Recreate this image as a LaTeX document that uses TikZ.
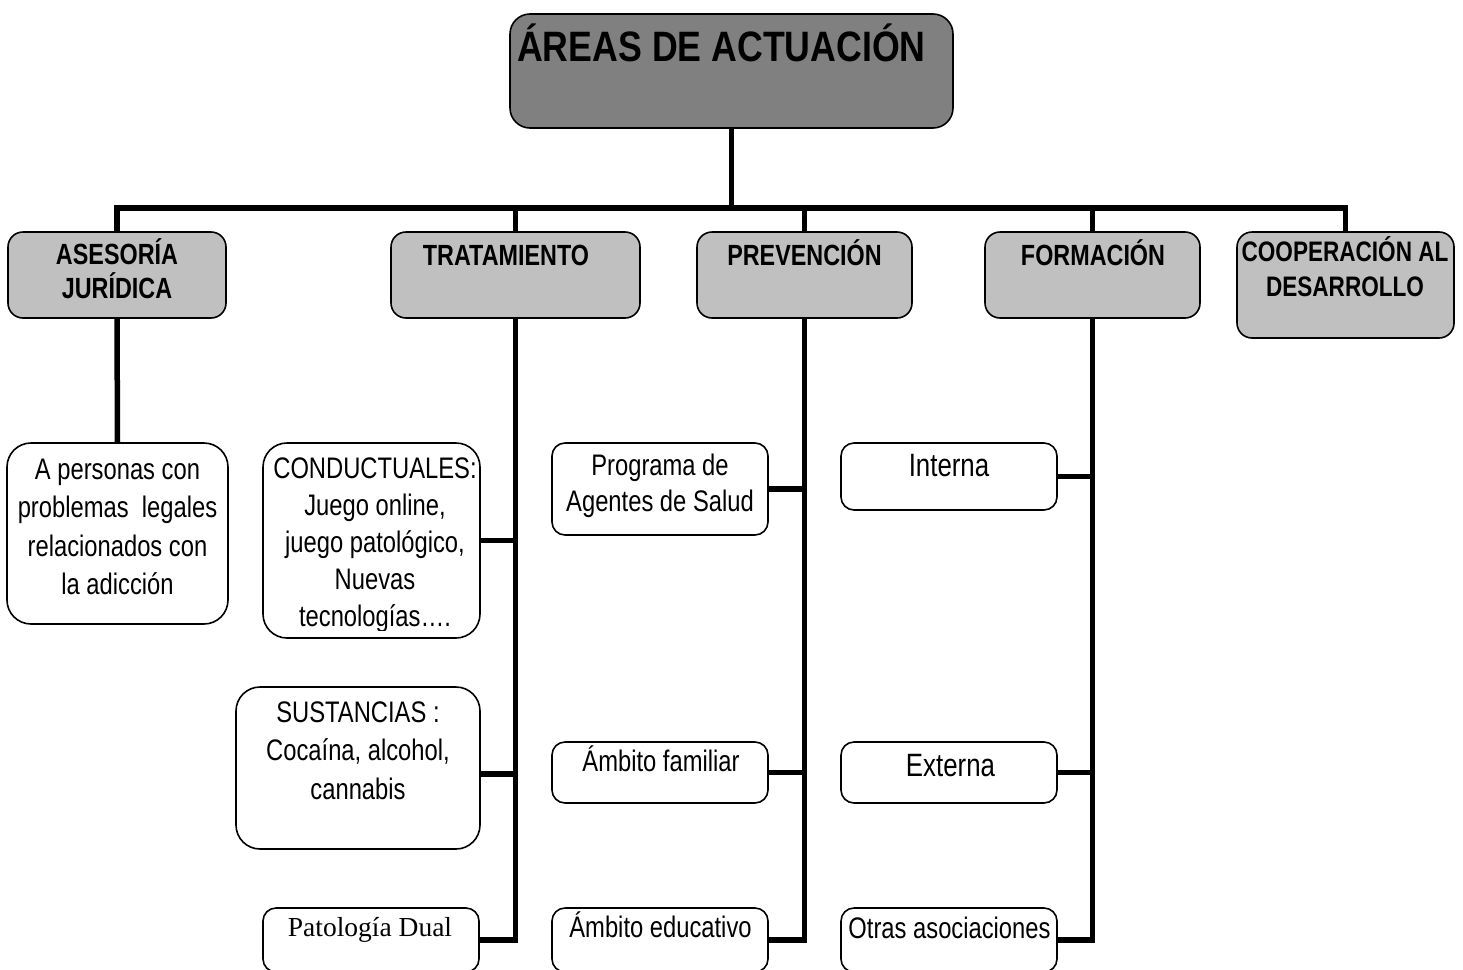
\documentclass[tikz,border=0pt]{standalone}
\usepackage{fontspec}
\setmainfont{Liberation Sans}[FakeStretch=0.8]
\newfontfamily\titlefont{Liberation Sans}[FakeStretch=0.84]
\newfontfamily\dualfont{Liberation Serif}
\definecolor{titlegray}{HTML}{808080}
\definecolor{boxgray}{HTML}{C0C0C0}
\newcommand{\tstrut}{\rule{0pt}{32pt}}
\begin{document}
\begin{tikzpicture}[x=1pt,y=-1pt,
  conn/.style={line width=5.5pt, line join=miter},
  bx/.style={draw, line width=1.6pt, inner sep=0pt},
  titlebox/.style={bx, fill=titlegray, rounded corners=20pt},
  catbox/.style={bx, fill=boxgray, rounded corners=15pt},
  leafbox/.style={bx, fill=white, rounded corners=24pt},
  smallbox/.style={bx, fill=white, rounded corners=13pt},
  txt/.style={inner sep=0pt, align=center},
  titletxt/.style={inner sep=0pt, anchor=base west, font=\titlefont\fontsize{42.5}{48}\bfseries\selectfont},
  cattxt/.style={txt, font=\fontsize{29.2}{34}\bfseries\selectfont},
  leaftxt/.style={txt, font=\fontsize{29.7}{38.5}\selectfont},
  bigtxt/.style={txt, font=\fontsize{32.3}{36}\selectfont}
]
\useasboundingbox (0,0) rectangle (1463,969);
\clip (0,0) rectangle (1463,969);

% boxes
\node[titlebox, minimum width=443pt, minimum height=114pt] (title) at (731.5,71) {};
\node[catbox, minimum width=218pt, minimum height=86pt] (ases) at (117,275) {};
\node[catbox, minimum width=249pt, minimum height=86pt] (trat) at (515.5,275) {};
\node[catbox, minimum width=215pt, minimum height=86pt] (prev) at (804.5,275) {};
\node[catbox, minimum width=215pt, minimum height=86pt] (form) at (1092.5,275) {};
\node[catbox, minimum width=217pt, minimum height=106pt] (coop) at (1345.5,285) {};

\node[leafbox, minimum width=221pt, minimum height=181pt] (leg) at (117.5,533.5) {};
\node[leafbox, minimum width=217pt, minimum height=195pt] (cond) at (371.5,540.5) {};
\node[leafbox, minimum width=244pt, minimum height=162pt] (sust) at (358,768) {};
\node[smallbox, minimum width=216pt, minimum height=64pt] (pat) at (371,940) {};

\node[smallbox, minimum width=216pt, minimum height=92pt] (prog) at (660,489) {};
\node[smallbox, minimum width=216pt, minimum height=61pt] (fam) at (660,772.5) {};
\node[smallbox, minimum width=216pt, minimum height=64pt] (edu) at (660,940) {};

\node[smallbox, minimum width=216pt, minimum height=67pt] (inte) at (949,476.5) {};
\node[smallbox, minimum width=216pt, minimum height=61pt] (ext) at (949,772.5) {};
\node[smallbox, minimum width=216pt, minimum height=64pt] (otr) at (949,940) {};

% connectors
\coordinate (bus) at (731.5,208);
\draw[conn] (title.south) -- (title.south |- bus);
\draw[conn] (ases.north) -- (ases.north |- bus) -- (coop.north |- bus) -- (coop.north);
\draw[conn] (trat.north) -- (trat.north |- bus);
\draw[conn] (prev.north) -- (prev.north |- bus);
\draw[conn] (form.north) -- (form.north |- bus);

\draw[conn] (ases.south) -- (leg.north);

\draw[conn] (pat.east) -| (trat.south);
\draw[conn] (cond.east) -- (cond.east -| trat.south);
\draw[conn] ([yshift=-6pt]sust.east) -- ([yshift=-6pt]sust.east -| trat.south);

\draw[conn] (edu.east) -| (prev.south);
\draw[conn] (prog.east) -- (prog.east -| prev.south);
\draw[conn] (fam.east) -- (fam.east -| prev.south);

\draw[conn] (otr.east) -| (form.south);
\draw[conn] (inte.east) -- (inte.east -| form.south);
\draw[conn] (ext.east) -- (ext.east -| form.south);

% texts
\node[titletxt] (titlet) at (517,61) {ÁREAS DE ACTUACIÓN};
\node[cattxt, anchor=north] (asest) at (117,232) {\tstrut ASESORÍA\\JURÍDICA};
\node[cattxt, anchor=base] (tratt) at (506,265) {TRATAMIENTO};
\node[cattxt, anchor=base] (prevt) at (804.5,265) {PREVENCIÓN};
\node[cattxt, anchor=base] (formt) at (1093,265) {FORMACIÓN};
\node[cattxt, anchor=north, font=\fontsize{28.2}{35}\bfseries\selectfont] (coopt) at (1345,229.7) {\tstrut COOPERACIÓN AL\\DESARROLLO};

\node[leaftxt, anchor=north] (legt) at (117.5,447) {\tstrut A personas con\\problemas\ \ legales\\relacionados con\\la adicción};
\begin{scope}
\clip (263,440) rectangle (480,630);
\node[leaftxt, anchor=north, font=\fontsize{29.7}{37}\selectfont] (condt) at (375,446) {\tstrut CONDUCTUALES:\\Juego online,\\juego patológico,\\Nuevas\\tecnologías….};
\end{scope}
\node[leaftxt, anchor=north] (sustt) at (358,690) {\tstrut SUSTANCIAS :\\Cocaína, alcohol,\\cannabis};
\node[txt, anchor=base, font=\dualfont\fontsize{27.5}{33}\selectfont] (patt) at (370,936) {Patología Dual};

\node[leaftxt, anchor=north, font=\fontsize{29.7}{36.5}\selectfont] (progt) at (660,443) {\tstrut Programa de\\Agentes de Salud};
\node[leaftxt, anchor=base] (famt) at (661,771.7) {Ámbito familiar};
\node[leaftxt, anchor=base] (edut) at (660.5,937) {Ámbito educativo};

\node[bigtxt, anchor=base] (intet) at (949,476.7) {Interna};
\node[bigtxt, anchor=base] (extt) at (950.5,776) {Externa};
\node[leaftxt, anchor=base] (otrt) at (949.5,938) {Otras asociaciones};
\end{tikzpicture}
\end{document}
